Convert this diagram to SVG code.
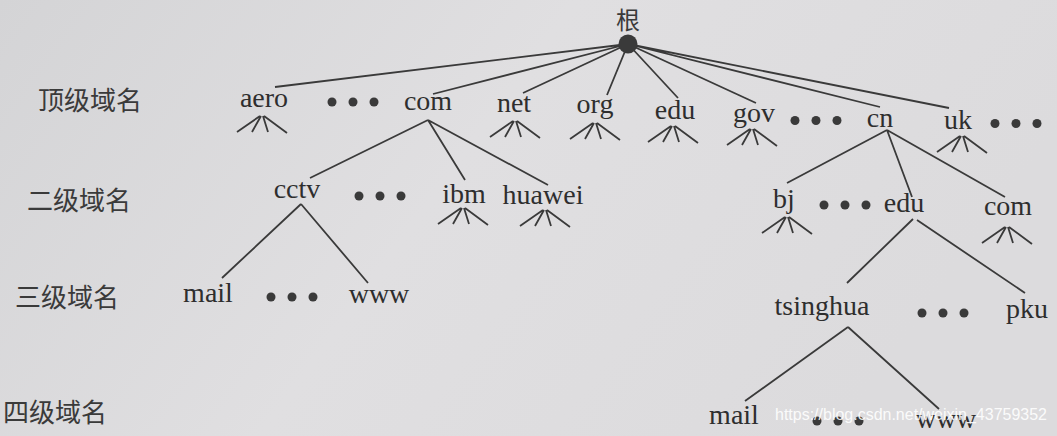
<svg xmlns="http://www.w3.org/2000/svg" width="1057" height="436" viewBox="0 0 1057 436">
<defs>
<linearGradient id="bg" x1="0" y1="0" x2="1" y2="0.3">
<stop offset="0" stop-color="#d4d4d6"/>
<stop offset="0.5" stop-color="#e0dfe1"/>
<stop offset="1" stop-color="#dcdbdd"/>
</linearGradient>
<g id="fan">
<path d="M-2,0 L-25,16 M-1,0 L-10,16 M1,0 L6,16 M2,0 L25,17" fill="none" stroke="#3a3a3a" stroke-width="1.8"/>
</g>
<g id="dots">
<circle cx="0" cy="0" r="4.5"/><circle cx="21" cy="0" r="4.5"/><circle cx="42" cy="0" r="4.5"/>
</g>
</defs>
<style>
.n{font-family:"Liberation Serif","DejaVu Serif",serif;font-size:28px;fill:#2e2e2e;text-anchor:middle}
.lv{font-family:"Noto Sans CJK SC","Noto Sans",sans-serif;font-size:26px;fill:#3a3a3a}
.e{stroke:#3a3a3a;stroke-width:1.8;fill:none}
.d{fill:#3a3a3a}
</style>
<rect x="0" y="0" width="1057" height="436" fill="url(#bg)"/>

<g id="level-labels">
<text class="lv" x="38" y="110">顶级域名</text>
<text class="lv" x="27" y="210">二级域名</text>
<text class="lv" x="15" y="307">三级域名</text>
<text class="lv" x="3" y="422">四级域名</text>
</g>

<g id="connectors" class="e">
<path d="M628,44 L275,87 M628,44 L433,94 M628,44 L523,93 M628,44 L607,95 M628,44 L678,98 M628,44 L756,103 M628,44 L880,107 M628,44 L949,108"/>
<path d="M428,120 L310,178 M428,120 L465,180 M428,120 L548,185"/>
<path d="M301,204 L222,278 M301,204 L368,283"/>
<path d="M887,130 L787,183 M887,130 L912,197 M887,130 L1005,197"/>
<path d="M913,219 L847,283 M917,220 L1025,293"/>
<path d="M848,327 L745,401 M848,327 L939,409"/>
</g>

<g id="root">
<circle cx="628" cy="44" r="9.5" fill="#3a3a3a"/>
<text x="628" y="29" style="font-family:'Noto Sans CJK SC','Noto Sans',sans-serif;font-size:24px;fill:#3a3a3a;text-anchor:middle">根</text>
</g>

<g id="tld-aero"><text class="n" x="264" y="107">aero</text><use href="#fan" x="262" y="116"/></g>
<g id="tld-dots1" class="d"><use href="#dots" x="332" y="102"/></g>
<g id="tld-com"><text class="n" x="428" y="110">com</text></g>
<g id="tld-net"><text class="n" x="514" y="112">net</text><use href="#fan" x="515" y="121"/></g>
<g id="tld-org"><text class="n" x="595" y="113">org</text><use href="#fan" x="595" y="123"/></g>
<g id="tld-edu"><text class="n" x="675" y="119">edu</text><use href="#fan" x="673" y="126"/></g>
<g id="tld-gov"><text class="n" x="754" y="122">gov</text><use href="#fan" x="752" y="129"/></g>
<g id="tld-dots2" class="d"><use href="#dots" x="795" y="120.5"/></g>
<g id="tld-cn"><text class="n" x="880" y="127">cn</text></g>
<g id="tld-uk"><text class="n" x="958" y="129">uk</text><use href="#fan" x="962" y="136"/></g>
<g id="tld-dots3" class="d"><use href="#dots" x="995" y="123.5"/></g>

<g id="sld-cctv"><text class="n" x="297" y="198">cctv</text></g>
<g id="sld-dots1" class="d"><use href="#dots" x="359" y="196"/></g>
<g id="sld-ibm"><text class="n" x="464" y="203">ibm</text><use href="#fan" x="463" y="208"/></g>
<g id="sld-huawei"><text class="n" x="543" y="204">huawei</text><use href="#fan" x="545" y="210"/></g>
<g id="sld-bj"><text class="n" x="784" y="208">bj</text><use href="#fan" x="787" y="217"/></g>
<g id="sld-dots2" class="d"><use href="#dots" x="824" y="205"/></g>
<g id="sld-edu"><text class="n" x="904" y="212">edu</text></g>
<g id="sld-com"><text class="n" x="1008" y="215">com</text><use href="#fan" x="1007" y="227"/></g>

<g id="l3-mail"><text class="n" x="208" y="302">mail</text></g>
<g id="l3-dots1" class="d"><use href="#dots" x="271" y="297"/></g>
<g id="l3-www"><text class="n" x="379" y="303">www</text></g>
<g id="l3-tsinghua"><text class="n" x="822" y="315">tsinghua</text></g>
<g id="l3-dots2" class="d"><use href="#dots" x="922" y="313"/></g>
<g id="l3-pku"><text class="n" x="1027" y="318">pku</text></g>

<g id="l4-mail"><text class="n" x="734" y="424">mail</text></g>
<g id="l4-dots" class="d"><use href="#dots" x="817" y="421"/></g>
<g id="l4-www"><text class="n" x="946" y="428">www</text></g>

<text x="775" y="420" textLength="272" lengthAdjust="spacingAndGlyphs" style="font-family:'Liberation Sans',Arial,sans-serif;font-size:16px;fill:#ffffff;fill-opacity:0.9">https://blog.csdn.net/weixin_43759352</text>
</svg>
